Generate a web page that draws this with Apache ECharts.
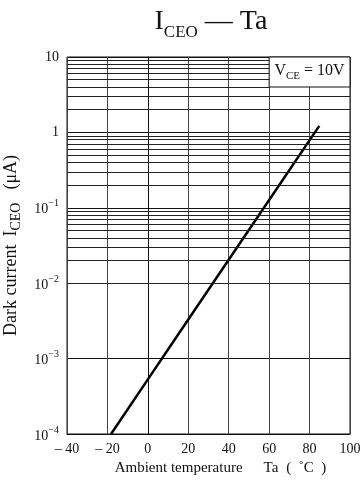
<!DOCTYPE html>
<html><head><meta charset="utf-8">
<script src="https://cdn.jsdelivr.net/npm/echarts@6/dist/echarts.min.js"></script>
<style>html,body{margin:0;padding:0;background:#fff}#c{width:363px;height:486px}</style>
</head><body><div id="c"></div>
<script>
// Data
const temps = [-18.2, 0, 20, 40, 60, 84.8];          // Ta (°C)
const darkCurrent = [1e-4, 5.3e-4, 3.3e-3, 2.05e-2, 0.127, 1.22]; // ICEO (µA)
const xTickLabels = {'-40':'– 40','-20':'– 20','0':'0','20':'20','40':'40','60':'60','80':'80','100':'100'};
const yTickLabels = {'1':'10','0':'1','-1':'{b|10}{s|−1}','-2':'{b|10}{s|−2}','-3':'{b|10}{s|−3}','-4':'{b|10}{s|−4}'};
const minorMultipliers = [2,3,4,5,6,7,8,9];
const decades = [1e-4, 1e-3, 1e-2, 1e-1, 1];
const boxArea = {x0: 60, x1: 100, y0: 4, y1: 10};

const FONT = 'Liberation Serif';
const minorLines = [];
decades.forEach(d => minorMultipliers.forEach(m => {
  const v = d * m;
  if (d === 1 && v >= boxArea.y0) {
    minorLines.push([{coord:[-40, v]}, {coord:[boxArea.x0, v]}]);
  } else {
    minorLines.push({yAxis: v});
  }
}));

const chart = echarts.init(document.getElementById('c'));
chart.setOption({
  animation: false,
  backgroundColor: '#fff',
  title: {
    text: '{i|I}{s|CEO}{t| — Ta}',
    left: 206, top: 3, textAlign: 'center',
    textStyle: {
      fontWeight: 'normal',
      rich: {
        i: {fontFamily: FONT, fontSize: 28, fontWeight: 'normal', color: '#111', lineHeight: 33, verticalAlign: 'top'},
        s: {fontFamily: FONT, fontSize: 17, fontWeight: 'normal', color: '#111', lineHeight: 17, verticalAlign: 'bottom'},
        t: {fontFamily: FONT, fontSize: 28, fontWeight: 'normal', color: '#111', lineHeight: 33, verticalAlign: 'top'}
      }
    }
  },
  grid: {left: 67, right: 13, top: 57, bottom: 52, show: true, borderColor: '#111', borderWidth: 1,
    containLabel: false, outerBoundsMode: 'none'},
  xAxis: {
    type: 'value', min: -40, max: 100, interval: 20,
    axisLine: {show: true, lineStyle: {color: '#111', width: 1}},
    axisTick: {show: false},
    splitLine: {show: true, lineStyle: {color: '#444', width: 1}},
    axisLabel: {fontFamily: FONT, fontSize: 14, color: '#111', margin: 8,
      formatter: v => xTickLabels[String(v)] ?? String(v)},
    name: '{n|Ambient temperature}{g| }{n|Ta}{h| }{n|(  ˚C  )}',
    nameLocation: 'middle', nameGap: 26,
    nameTextStyle: {padding: [0, 0, 0, 24],
      rich: {
        n: {fontFamily: FONT, fontSize: 15, color: '#111'},
        g: {fontFamily: FONT, fontSize: 15, width: 21},
        h: {fontFamily: FONT, fontSize: 15, width: 8}
      }}
  },
  yAxis: {
    type: 'log', logBase: 10, min: 1e-4, max: 10,
    axisLine: {show: true, lineStyle: {color: '#111', width: 1}},
    axisTick: {show: false},
    splitLine: {show: true, lineStyle: {color: '#111', width: 1}},
    axisLabel: {margin: 8, color: '#111',
      formatter: v => yTickLabels[String(Math.round(Math.log10(v)))] ?? '',
      fontFamily: FONT, fontSize: 14,
      rich: {
        b: {fontFamily: FONT, fontSize: 14, color: '#111', lineHeight: 18, verticalAlign: 'bottom'},
        s: {fontFamily: FONT, fontSize: 10, color: '#111', lineHeight: 10, verticalAlign: 'top'}
      }
    },
    name: '{n|Dark current}{g| }{n|I}{s|CEO}{h| }{n|(μA)}',
    nameLocation: 'middle', nameGap: 41, nameRotate: 90,
    nameTextStyle: {
      padding: [0, 0, 0, 0],
      rich: {
        n: {fontFamily: FONT, fontSize: 18, color: '#111', lineHeight: 21, verticalAlign: 'top'},
        s: {fontFamily: FONT, fontSize: 14, color: '#111', lineHeight: 14, verticalAlign: 'bottom'},
        g: {fontFamily: FONT, fontSize: 18, width: 8},
        h: {fontFamily: FONT, fontSize: 18, width: 13}
      }
    }
  },
  series: [
    {
      type: 'line', data: [], z: 1, silent: true,
      markLine: {silent: true, symbol: 'none', animation: false,
        label: {show: false}, lineStyle: {color: '#222', width: 1, type: 'solid'},
        data: minorLines}
    },
    {
      type: 'line', z: 3, silent: true,
      data: temps.map((t, i) => [t, darkCurrent[i]]),
      showSymbol: false, lineStyle: {color: '#000', width: 2.5},
      markArea: {silent: true,
        itemStyle: {color: '#fff', borderColor: '#111', borderWidth: 1},
        label: {show: true, position: 'inside',
          formatter: '{v|V}{s|CE}{v| = 10V}',
          rich: {
            v: {fontFamily: FONT, fontSize: 16, color: '#111', lineHeight: 19, verticalAlign: 'top'},
            s: {fontFamily: FONT, fontSize: 11, color: '#111', lineHeight: 11, verticalAlign: 'bottom'}
          }},
        data: [[{coord: [boxArea.x0, boxArea.y1]}, {coord: [boxArea.x1, boxArea.y0]}]]
      }
    }
  ]
});
</script></body></html>
